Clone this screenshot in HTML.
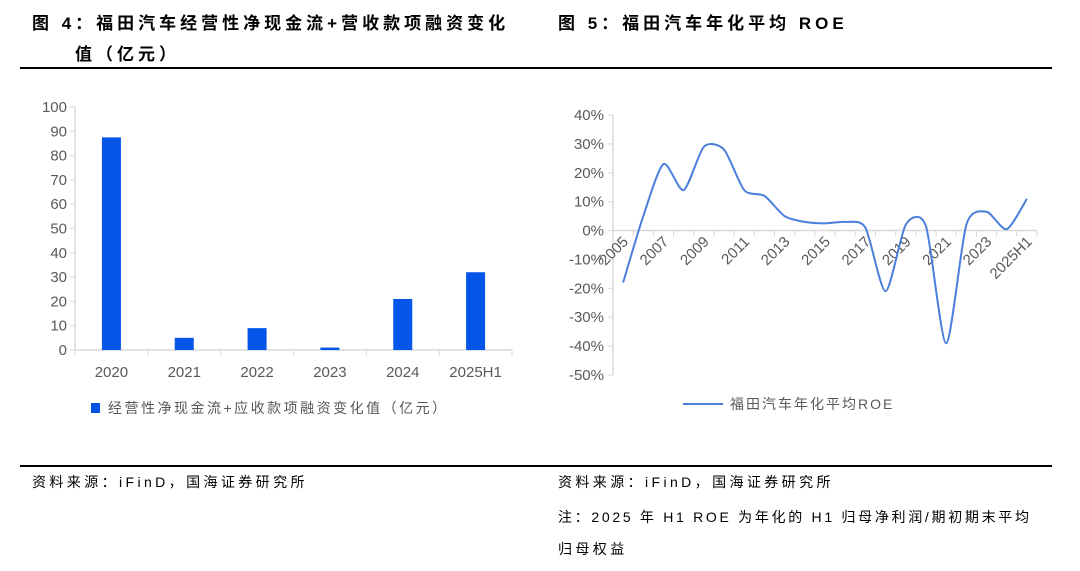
<!DOCTYPE html>
<html><head><meta charset="utf-8"><style>
body{margin:0;width:1080px;height:571px;background:#fff;position:relative;overflow:hidden;font-family:"Liberation Sans","Noto Sans CJK SC",sans-serif;color:#000}
.t{position:absolute;font-weight:bold;font-size:17px;white-space:nowrap;letter-spacing:4px}
.s{position:absolute;font-size:14px;white-space:nowrap;letter-spacing:3.4px}
.rule{position:absolute;left:20px;width:1032px;height:2px;background:#000}
svg{position:absolute;left:0;top:0}
</style></head><body>
<div class="t" style="left:32px;top:9px">图 4：福田汽车经营性净现金流+营收款项融资变化</div>
<div class="t" style="left:75px;top:40px">值（亿元）</div>
<div class="t" style="left:558px;top:9px">图 5：福田汽车年化平均 ROE</div>
<div class="rule" style="top:67px"></div>
<div class="rule" style="top:465px"></div>
<div class="s" style="left:32px;top:472px">资料来源：iFinD，国海证券研究所</div>
<div class="s" style="left:558px;top:472px">资料来源：iFinD，国海证券研究所</div>
<div class="s" style="left:558px;top:507px;letter-spacing:2.7px">注：2025 年 H1 ROE 为年化的 H1 归母净利润/期初期末平均</div>
<div class="s" style="left:558px;top:539px">归母权益</div>
<svg width="1080" height="571" id="svg" font-family="Liberation Sans, Noto Sans CJK SC, sans-serif"></svg>
<script>
const barCats=["2020","2021","2022","2023","2024","2025H1"];
const barVals=[87.5,5,9,1,21,32];
const barTicks=[0,10,20,30,40,50,60,70,80,90,100];
const lineCats=["2005","2006","2007","2008","2009","2010","2011","2012","2013","2014","2015","2016","2017","2018","2019","2020","2021","2022","2023","2024","2025H1"];
const lineVals=[-18,5,23,14,29,28,14,12,5,3,2.5,3,1,-21,2,1.5,-39,2,6.5,0.5,11];
const lineTicks=[40,30,20,10,0,-10,-20,-30,-40,-50];
const svg=document.getElementById('svg');
const NS='http://www.w3.org/2000/svg';
function mk(tag,attrs,parent){const e=document.createElementNS(NS,tag);for(const k in attrs)e.setAttribute(k,attrs[k]);(parent||svg).appendChild(e);return e;}
const G='#d9d9d9',TX='#595959';
const bx0=75,bx1=512,by0=350,by1=107;
const bY=v=>by0-(v-0)/(100)*(by0-by1);
const bw=(bx1-bx0)/barCats.length;
let e=mk('line',{x1:bx0,y1:by1,x2:bx0,y2:by0,stroke:G,'stroke-width':1.5});

barTicks.forEach(t=>{const y=bY(t);mk('line',{x1:bx0-5,y1:y,x2:bx0,y2:y,stroke:G});
 const tx=mk('text',{x:bx0-8,y:y+5,'text-anchor':'end','font-size':15,fill:TX});tx.textContent=t;
 });
e=mk('line',{x1:bx0,y1:by0,x2:bx1,y2:by0,stroke:G,'stroke-width':1.5});

barCats.forEach((c,i)=>{const x=bx0+i*bw;mk('line',{x1:x,y1:by0,x2:x,y2:by0+6,stroke:G});
 if(i==barCats.length-1)mk('line',{x1:bx1,y1:by0,x2:bx1,y2:by0+6,stroke:G});
 const cx=x+bw/2;
 const r=mk('rect',{x:cx-9.5,y:bY(barVals[i]),width:19,height:by0-bY(barVals[i]),fill:'#0455e8'});
 
 const tx=mk('text',{x:cx,y:by0+27,'text-anchor':'middle','font-size':15,fill:TX});tx.textContent=c;
 });
e=mk('rect',{x:91,y:403,width:9,height:10,fill:'#0455e8'});

e=mk('text',{x:108,y:413,'font-size':14,fill:TX,'letter-spacing':'2.5'});e.textContent='经营性净现金流+应收款项融资变化值（亿元）';

const lx0=613,lx1=1037,lyTop=115,lyBot=375;
const lY=v=>lyTop+(40-v)/90*(lyBot-lyTop);
const lw=(lx1-lx0)/lineCats.length;
const lX=i=>lx0+lw*(i+0.5);
e=mk('line',{x1:lx0,y1:lyTop,x2:lx0,y2:lyBot,stroke:G,'stroke-width':1.5});

lineTicks.forEach(t=>{const y=lY(t);mk('line',{x1:lx0-5,y1:y,x2:lx0,y2:y,stroke:G});
 const tx=mk('text',{x:lx0-9,y:y+5,'text-anchor':'end','font-size':15,fill:TX});tx.textContent=t+'%';
 });
const y0=lY(0);
e=mk('line',{x1:lx0,y1:y0,x2:lx1,y2:y0,stroke:G,'stroke-width':1.5});

for(let i=0;i<=lineCats.length;i++){const x=lx0+i*lw;mk('line',{x1:x,y1:y0,x2:x,y2:y0+6,stroke:G});}
lineCats.forEach((c,i)=>{if(i%2)return;const x=lX(i)+6,y=y0+12;
 const tx=mk('text',{x:x,y:y,'text-anchor':'end','font-size':15,fill:TX,transform:`rotate(-45 ${x} ${y})`});tx.textContent=c;
 });
const pts=lineVals.map((v,i)=>[lX(i),lY(v)]);
let d='M'+pts[0][0]+','+pts[0][1];
const k=1/8;
for(let i=0;i<pts.length-1;i++){const p0=pts[Math.max(0,i-1)],p1=pts[i],p2=pts[i+1],p3=pts[Math.min(pts.length-1,i+2)];
 const c1=[p1[0]+(p2[0]-p0[0])*k,p1[1]+(p2[1]-p0[1])*k],c2=[p2[0]-(p3[0]-p1[0])*k,p2[1]-(p3[1]-p1[1])*k];
 d+=` C${c1[0]},${c1[1]} ${c2[0]},${c2[1]} ${p2[0]},${p2[1]}`;}
e=mk('path',{d:d,fill:'none',stroke:'#4a7fdc','stroke-width':2});

e=mk('line',{x1:683,y1:404,x2:723,y2:404,stroke:'#4a7fdc','stroke-width':2});

e=mk('text',{x:730,y:409,'font-size':14,fill:TX,'letter-spacing':'2'});e.textContent='福田汽车年化平均ROE';

</script>
</body></html>
